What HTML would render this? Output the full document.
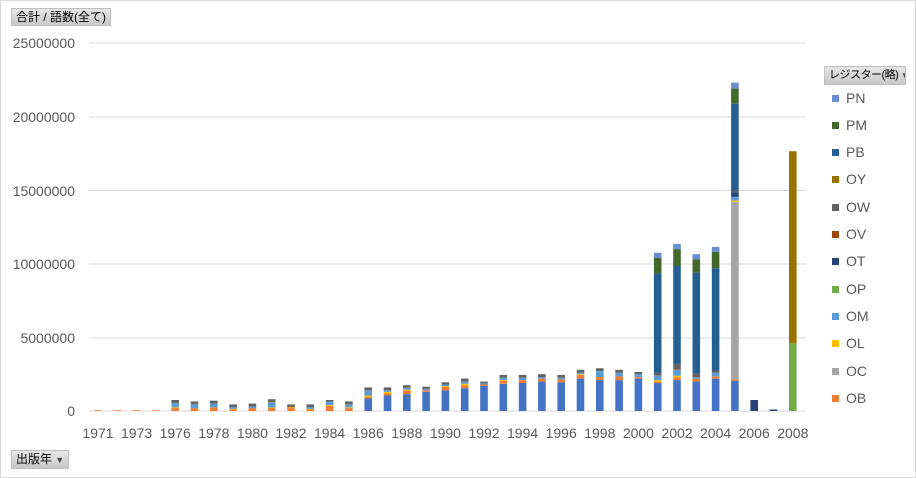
<!DOCTYPE html>
<html><head><meta charset="utf-8"><style>
html,body{margin:0;padding:0;background:#fff}
body{width:916px;height:478px;position:relative;overflow:hidden;font-family:"Liberation Sans","Noto Sans CJK JP",sans-serif}
.frame{position:absolute;left:0;top:0;width:914px;height:476px;border:1px solid #d9d9d9}
.btn{position:absolute;background:linear-gradient(#e6e6e6,#c8c8c8);border:1px solid #bfbfbf;font-size:12px;color:#000;line-height:16px;padding:0 4px;white-space:nowrap;overflow:hidden}
.yl{position:absolute;left:0;width:75px;text-align:right;font-size:14px;color:#595959}
.xl{position:absolute;top:425px;font-size:14px;color:#595959;width:40px;text-align:center}
.lg{position:absolute;left:832px;font-size:14px;color:#595959}
.lg i{display:inline-block;width:7px;height:7px;margin-right:7px;vertical-align:1px}
</style></head><body>
<div class="frame"></div>
<div class="btn" style="left:11px;top:8px">合計 / 語数(全て)</div>
<div class="btn" style="left:824px;top:66px;width:72px;font-size:11px;letter-spacing:-0.5px">レジスター(略) <span style="font-size:8px;color:#444">▼</span></div>
<div class="btn" style="left:11px;top:450px">出版年 <span style="font-size:9px;color:#444">▼</span></div>
<div class="yl" style="top:35px">25000000</div>
<div class="yl" style="top:109px">20000000</div>
<div class="yl" style="top:183px">15000000</div>
<div class="yl" style="top:256px">10000000</div>
<div class="yl" style="top:330px">5000000</div>
<div class="yl" style="top:403px">0</div>
<svg id="s" width="916" height="478" style="position:absolute;left:0;top:0"></svg>
<div id="xl"></div>
<div class="lg" style="top:90px"><i style="background:#698ED0"></i>PN</div>
<div class="lg" style="top:117px"><i style="background:#43682B"></i>PM</div>
<div class="lg" style="top:144px"><i style="background:#255E91"></i>PB</div>
<div class="lg" style="top:171px"><i style="background:#997300"></i>OY</div>
<div class="lg" style="top:199px"><i style="background:#636363"></i>OW</div>
<div class="lg" style="top:226px"><i style="background:#9E480E"></i>OV</div>
<div class="lg" style="top:253px"><i style="background:#264478"></i>OT</div>
<div class="lg" style="top:281px"><i style="background:#70AD47"></i>OP</div>
<div class="lg" style="top:308px"><i style="background:#5B9BD5"></i>OM</div>
<div class="lg" style="top:335px"><i style="background:#FFC000"></i>OL</div>
<div class="lg" style="top:363px"><i style="background:#A5A5A5"></i>OC</div>
<div class="lg" style="top:390px"><i style="background:#ED7D31"></i>OB</div>
<script>
var C={B:"#4472C4",OB:"#ED7D31",OC:"#A5A5A5",OL:"#FFC000",OM:"#5B9BD5",OP:"#70AD47",OT:"#264478",OV:"#9E480E",OW:"#636363",OY:"#997300",PB:"#255E91",PM:"#43682B",PN:"#698ED0"};
var yrs=[1971,1972,1973,1974];for(var y=1976;y<=2008;y++)yrs.push(y);
var D={
1971:[["OB",.05]],1972:[["OB",.05]],1973:[["OB",.05]],1974:[["OB",.05]],
1976:[["OB",.2],["OL",.05],["OM",.3],["OW",.2]],
1977:[["OB",.2],["OM",.25],["OW",.2]],
1978:[["OB",.25],["OM",.25],["OW",.2]],
1979:[["OB",.1],["OL",.05],["OM",.1],["OW",.2]],
1980:[["OB",.2],["OM",.1],["OW",.2]],
1981:[["OB",.2],["OL",.05],["OM",.35],["OV",.05],["OW",.15]],
1982:[["OB",.2],["OL",.05],["OV",.05],["OW",.15]],
1983:[["OB",.1],["OL",.05],["OM",.1],["OW",.2]],
1984:[["OB",.35],["OL",.05],["OM",.25],["OW",.1]],
1985:[["OB",.2],["OL",.05],["OM",.2],["OW",.2]],
1986:[["B",.85],["OB",.1],["OL",.1],["OM",.35],["OW",.2]],
1987:[["B",1.05],["OB",.15],["OL",.1],["OM",.1],["OW",.2]],
1988:[["B",1.15],["OB",.25],["OL",.05],["OM",.15],["OW",.15]],
1989:[["B",1.3],["OB",.1],["OM",.1],["OW",.15]],
1990:[["B",1.4],["OB",.25],["OL",.05],["OM",.1],["OW",.15]],
1991:[["B",1.55],["OB",.2],["OL",.1],["OM",.15],["OW",.2]],
1992:[["B",1.7],["OB",.1],["OM",.1],["OW",.1]],
1993:[["B",1.85],["OB",.2],["OL",.05],["OM",.15],["OW",.2]],
1994:[["B",1.9],["OB",.2],["OM",.15],["OW",.2]],
1995:[["B",2.0],["OB",.2],["OM",.1],["OW",.2]],
1996:[["B",1.95],["OB",.2],["OM",.1],["OW",.2]],
1997:[["B",2.2],["OB",.25],["OL",.05],["OM",.1],["OW",.2]],
1998:[["B",2.1],["OB",.2],["OM",.4],["OW",.2]],
1999:[["B",2.1],["OB",.25],["OM",.25],["OW",.2]],
2000:[["B",2.2],["OB",.1],["OM",.2],["OW",.15]],
2001:[["B",1.9],["OB",.1],["OL",.1],["OM",.3],["OW",.2],["PB",6.75],["PM",1.05],["PN",.35]],
2002:[["B",2.1],["OB",.2],["OL",.1],["OM",.4],["OV",.05],["OW",.35],["PB",6.65],["PM",1.15],["PN",.35]],
2003:[["B",2.0],["OB",.2],["OM",.1],["OW",.25],["PB",6.85],["PM",.9],["PN",.35]],
2004:[["B",2.2],["OB",.15],["OM",.25],["OW",.15],["PB",6.95],["PM",1.1],["PN",.35]],
2005:[["B",2.05],["OB",.1],["OC",12.05],["OL",.1],["OM",.25],["OT",.3],["OW",.1],["PB",5.95],["PM",1.0],["PN",.4]],
2006:[["OT",.75]],2007:[["OT",.1]],
2008:[["OP",4.6],["OY",13.05]]};
var s="",k=14.72;
[43,117,190.5,264,338,411].forEach(function(g){s+='<rect x="89" y="'+(g-0.5)+'" width="717" height="1" fill="#d9d9d9"/>';});
var xl="";
yrs.forEach(function(y,i){var cx=98+i*19.3,base=411;(D[y]||[]).forEach(function(p){var h=p[1]*k;base-=h;s+='<rect x="'+(cx-3.8).toFixed(1)+'" y="'+base.toFixed(1)+'" width="7.6" height="'+h.toFixed(1)+'" fill="'+C[p[0]]+'"/>';});
if(i%2==0)xl+='<div class="xl" style="left:'+(cx-20).toFixed(1)+'px">'+y+'</div>';});
document.getElementById("s").innerHTML=s;document.getElementById("xl").innerHTML=xl;
</script>
</body></html>
